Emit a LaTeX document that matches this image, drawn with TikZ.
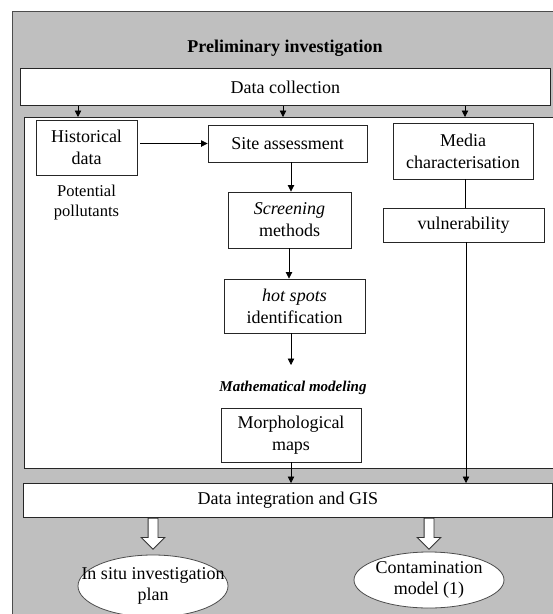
\documentclass[tikz,border=0pt]{standalone}
\usepackage{fontspec}
\setmainfont{Liberation Serif}
\usetikzlibrary{arrows.meta,shapes.geometric,shapes.arrows,calc}
\begin{document}
\begin{tikzpicture}[x=1pt,y=-1pt,
  box/.style={draw=black!85,line width=0.9pt,fill=white,inner sep=0pt,align=center,font=\fontsize{18}{22}\selectfont},
  frame/.style={rectangle,inner sep=0pt,anchor=north west},
  arr/.style={-{Triangle[length=6.5pt,width=6.5pt]},line width=0.8pt},
  ln/.style={line width=0.8pt},
  oval/.style={ellipse,draw=black!70,line width=0.8pt,fill=white,inner sep=0pt},
  lbl/.style={align=center,inner sep=0pt,font=\fontsize{18}{21}\selectfont},
  hollow/.style={single arrow,draw=black!80,line width=0.8pt,fill=white,shape border rotate=270,
    minimum height=31pt,minimum width=23pt,single arrow head extend=7pt,single arrow head indent=0pt,inner sep=4.5pt}]
\useasboundingbox (0,0) rectangle (553,614);
\fill[white] (0,0) rectangle (553,614);
% containers
\node[frame,draw=black!70,line width=1.2pt,fill=black!25,minimum width=560pt,minimum height=620pt] (outer) at (12,11) {};
\node[box,anchor=north west,minimum width=545pt,minimum height=351pt] (inner) at (24,117) {};
\node[font=\bfseries\fontsize{18}{22}\selectfont,inner sep=0pt] (title) at (285,48) {Preliminary investigation};
\node[box,anchor=north west,minimum width=530pt,minimum height=37pt] (dc) at (20,68) {Data collection};
\node[box,anchor=north west,minimum width=529pt,minimum height=34pt] (integ) at (23,483) {Data integration and GIS};
% inner nodes
\node[box,minimum width=101pt,minimum height=55pt] (hist) at (86.5,147.5) {Historical\\data};
\node[align=center,inner sep=0pt,font=\fontsize{16.5}{20}\selectfont] (pot) at (86.5,203) {Potential\\pollutants};
\node[box,minimum width=159pt,minimum height=37pt] (site) at (287.5,143.5) {Site assessment};
\node[box,minimum width=140pt,minimum height=56pt] (media) at (463,151) {Media\\characterisation};
\node[box,minimum width=123pt,minimum height=56pt] (screen) at (289.5,220) {\textit{Screening}\\methods};
\node[box,minimum width=161pt,minimum height=34pt] (vuln) at (463.5,225) {vulnerability};
\node[box,minimum width=141pt,minimum height=54pt] (hot) at (294.5,306) {\textit{hot spots}\\identification};
\node[inner sep=0pt,font=\bfseries\itshape\fontsize{15}{18}\selectfont] (math) at (293,388) {Mathematical modeling};
\node[box,minimum width=140pt,minimum height=54pt] (morph) at (291,435) {Morphological\\maps};
% outputs
\node[oval,minimum width=150pt,minimum height=62pt,label={[lbl]center:In situ investigation\\plan}] (ell1) at (153,586) {};
\node[oval,minimum width=150pt,minimum height=56pt,label={[lbl]center:Contamination\\model (1)}] (ell2) at (429,580) {};
% helper x positions
\coordinate (x1) at (78,0);
\coordinate (x2) at (283,0);
\coordinate (x3) at (465,0);
\coordinate (xm) at (291,0);
\coordinate (xs) at (289,0);
\coordinate (xv) at (466,0);
\coordinate (hotend) at (291,365);
% connectors
\draw[arr] (dc.south -| x1) -- (inner.north -| x1);
\draw[arr] (dc.south -| x2) -- (inner.north -| x2);
\draw[arr] (dc.south -| x3) -- (inner.north -| x3);
\draw[arr] ([xshift=3pt]site.west -| hist.east) -- (site.west);
\draw[arr] (site.south -| xm) -- (screen.north -| xm);
\draw[arr] (screen.south -| xs) -- (hot.north -| xs);
\draw[arr] (hot.south -| hotend) -- (hotend);
\draw[ln] (media.south -| x3) -- (vuln.north -| x3);
\draw[arr] (morph.south -| xm) -- (integ.north -| xm);
\draw[arr] (vuln.south -| xv) -- (integ.north -| xv);
\node[hollow,anchor=tail] (h1) at (integ.south -| ell1.north) {};
\node[hollow,anchor=tail] (h2) at (integ.south -| ell2.north) {};
\end{tikzpicture}
\end{document}
